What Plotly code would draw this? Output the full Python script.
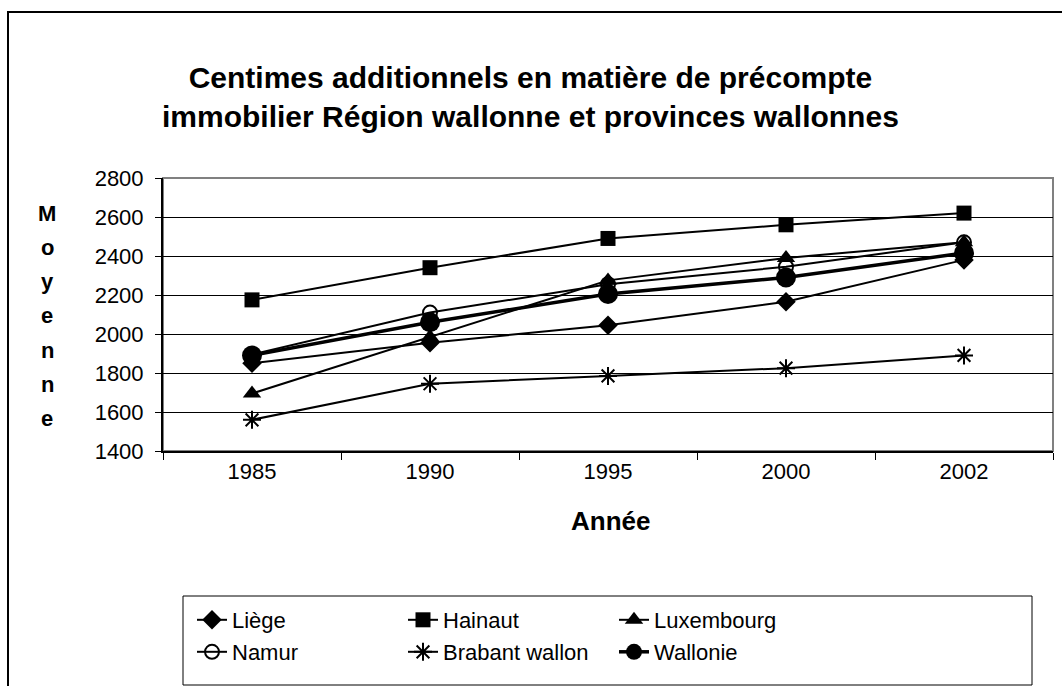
import plotly.graph_objects as go

years = ["1985", "1990", "1995", "2000", "2002"]
liege = [1850, 1955, 2045, 2165, 2380]
hainaut = [2175, 2340, 2490, 2560, 2620]
luxembourg = [1695, 1985, 2275, 2390, 2470]
namur = [1895, 2110, 2255, 2345, 2470]
brabant = [1560, 1745, 1785, 1825, 1890]
wallonie = [1890, 2060, 2205, 2290, 2415]

series = [
    ("Liège", liege, "diamond", 15, 2, "legend"),
    ("Hainaut", hainaut, "square", 15, 2, "legend"),
    ("Luxembourg", luxembourg, "triangle-up", 16, 2, "legend"),
    ("Namur", namur, "circle-open", 14, 2, "legend2"),
    ("Brabant wallon", brabant, "asterisk-open", 15, 2, "legend2"),
    ("Wallonie", wallonie, "circle", 20, 3.5, "legend2"),
]

W, H = 1062, 686
L, R, T, B = 163, 1053, 178, 451
pw, ph = R - L, B - T

def px(x):
    return (x - L) / pw

def py(y):
    return (B - y) / ph

fig = go.Figure()
for name, vals, sym, size, lw, lg in series:
    mk = dict(symbol=sym, size=size, color="black")
    if sym in ("circle-open", "asterisk-open"):
        mk["line"] = dict(width=2, color="black")
    fig.add_trace(go.Scatter(
        x=years, y=vals, name=name, mode="lines+markers", legend=lg,
        line=dict(color="black", width=lw), marker=mk,
    ))

font = "Arial, Liberation Sans, sans-serif"
leg_common = dict(
    orientation="h", xanchor="left", yanchor="middle",
    borderwidth=0, bgcolor="rgba(0,0,0,0)",
    font=dict(family=font, size=22, color="black"),
    entrywidth=166, tracegroupgap=0, itemwidth=30,
)

fig.update_layout(
    width=W, height=H,
    margin=dict(l=L, r=W - R, t=T, b=H - B, pad=0),
    paper_bgcolor="white", plot_bgcolor="white",
    font=dict(family=font, size=22, color="black"),
    showlegend=True,
    legend=dict(x=px(192), y=py(620), **leg_common),
    legend2=dict(x=px(192), y=py(652), **leg_common),
    xaxis=dict(
        type="category", tickson="boundaries", ticks="outside", ticklen=7,
        tickcolor="black", showline=True, linecolor="black", linewidth=2,
        showgrid=False, tickfont=dict(size=22), range=[-0.5, 4.5],
        ticklabelstandoff=0,
    ),
    yaxis=dict(
        range=[1400, 2800], dtick=200, ticks="outside", ticklen=6,
        tickcolor="black", showline=True, linecolor="black", linewidth=2,
        showgrid=True, gridcolor="black", gridwidth=1,
        tickfont=dict(size=22), ticklabelstandoff=7, zeroline=False,
    ),
    shapes=[
        dict(type="rect", xref="paper", yref="paper", x0=0, x1=1, y0=0, y1=1,
             line=dict(color="#808080", width=2), layer="below"),
        dict(type="rect", xref="paper", yref="paper",
             x0=px(8), x1=px(1075), y0=py(700), y1=py(12),
             line=dict(color="black", width=2), layer="below"),
        dict(type="rect", xref="paper", yref="paper",
             x0=px(183), x1=px(1032), y0=py(685), y1=py(596),
             line=dict(color="black", width=1), layer="below"),
    ],
)

annotations = [
    dict(text="<b>Centimes additionnels en matière de précompte<br>immobilier Région wallonne et provinces wallonnes</b>",
         x=px(530), xref="paper", y=py(97), yref="paper", xanchor="center", yanchor="middle",
         showarrow=False, font=dict(size=30, family=font)),
    dict(text="<b>Année</b>", x=px(610), xref="paper", y=py(521), yref="paper",
         xanchor="center", yanchor="middle", showarrow=False, font=dict(size=26, family=font)),
]
for i, ch in enumerate("Moyenne"):
    annotations.append(dict(text=f"<b>{ch}</b>", x=px(47), xref="paper",
                            y=py(213 + i * 34.3), yref="paper", xanchor="center",
                            yanchor="middle", showarrow=False,
                            font=dict(size=22, family=font)))
fig.update_layout(annotations=annotations)

fig.write_html("out.html", config={"displayModeBar": False},
               post_script="document.body.style.margin='0';")
